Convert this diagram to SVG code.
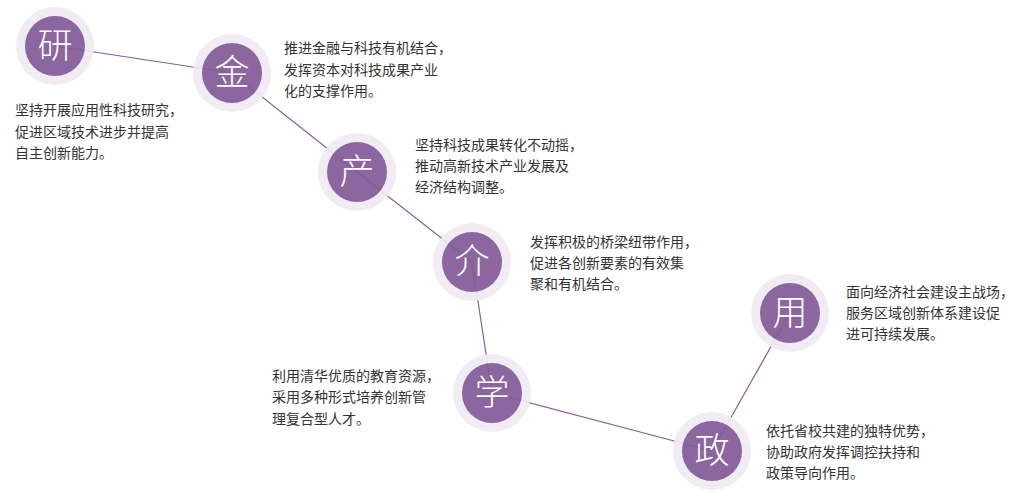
<svg xmlns="http://www.w3.org/2000/svg" width="1020" height="500" viewBox="0 0 1020 500">
<style>
.ring{fill:#f0eaf4}
.core{fill:#835b98}
.ch{font-family:"Noto Sans CJK SC","Noto Sans",sans-serif;font-size:35px;font-weight:300;fill:#ffffff;text-anchor:middle}
.t{font-family:"Noto Sans CJK SC","Noto Sans",sans-serif;font-size:14px;fill:#333333}
.c{stroke:#8a5c9e;stroke-width:1.2;fill:none}
.n{opacity:0.93}
</style>
<rect width="1020" height="500" fill="#ffffff"/>
<g id="connectors">
<line class="c" x1="55" y1="46" x2="232" y2="73"/>
<line class="c" x1="232" y1="73" x2="357" y2="172"/>
<line class="c" x1="357" y1="172" x2="472" y2="262"/>
<line class="c" x1="472" y1="262" x2="492" y2="393"/>
<line class="c" x1="492" y1="393" x2="712" y2="451"/>
<line class="c" x1="712" y1="451" x2="790" y2="313"/>
</g>
<g id="node-yan" class="n">
<circle class="ring" cx="55" cy="46" r="39"/>
<circle class="core" cx="55" cy="46" r="30"/>
<text class="ch" x="55" y="58">研</text>
</g>
<g id="node-jin" class="n">
<circle class="ring" cx="232" cy="73" r="39"/>
<circle class="core" cx="232" cy="73" r="30"/>
<text class="ch" x="232" y="85">金</text>
</g>
<g id="node-chan" class="n">
<circle class="ring" cx="357" cy="172" r="39"/>
<circle class="core" cx="357" cy="172" r="30"/>
<text class="ch" x="357" y="184">产</text>
</g>
<g id="node-jie" class="n">
<circle class="ring" cx="472" cy="262" r="39"/>
<circle class="core" cx="472" cy="262" r="30"/>
<text class="ch" x="472" y="274">介</text>
</g>
<g id="node-xue" class="n">
<circle class="ring" cx="492" cy="393" r="39"/>
<circle class="core" cx="492" cy="393" r="30"/>
<text class="ch" x="492" y="405">学</text>
</g>
<g id="node-zheng" class="n">
<circle class="ring" cx="712" cy="451" r="39"/>
<circle class="core" cx="712" cy="451" r="30"/>
<text class="ch" x="712" y="463">政</text>
</g>
<g id="node-yong" class="n">
<circle class="ring" cx="790" cy="313" r="39"/>
<circle class="core" cx="790" cy="313" r="30"/>
<text class="ch" x="790" y="325">用</text>
</g>
<g id="labels">
<text class="t" x="15" y="115">坚持开展应用性科技研究，</text>
<text class="t" x="15" y="137">促进区域技术进步并提高</text>
<text class="t" x="15" y="158">自主创新能力。</text>
<text class="t" x="284" y="53">推进金融与科技有机结合，</text>
<text class="t" x="284" y="75">发挥资本对科技成果产业</text>
<text class="t" x="284" y="96">化的支撑作用。</text>
<text class="t" x="415" y="150">坚持科技成果转化不动摇，</text>
<text class="t" x="415" y="171">推动高新技术产业发展及</text>
<text class="t" x="415" y="192">经济结构调整。</text>
<text class="t" x="530" y="247">发挥积极的桥梁纽带作用，</text>
<text class="t" x="530" y="268">促进各创新要素的有效集</text>
<text class="t" x="530" y="289">聚和有机结合。</text>
<text class="t" x="272" y="381">利用清华优质的教育资源，</text>
<text class="t" x="272" y="402">采用多种形式培养创新管</text>
<text class="t" x="272" y="424">理复合型人才。</text>
<text class="t" x="846" y="297">面向经济社会建设主战场，</text>
<text class="t" x="846" y="318">服务区域创新体系建设促</text>
<text class="t" x="846" y="339">进可持续发展。</text>
<text class="t" x="766" y="436">依托省校共建的独特优势，</text>
<text class="t" x="766" y="457">协助政府发挥调控扶持和</text>
<text class="t" x="766" y="478">政策导向作用。</text>
</g>
</svg>
